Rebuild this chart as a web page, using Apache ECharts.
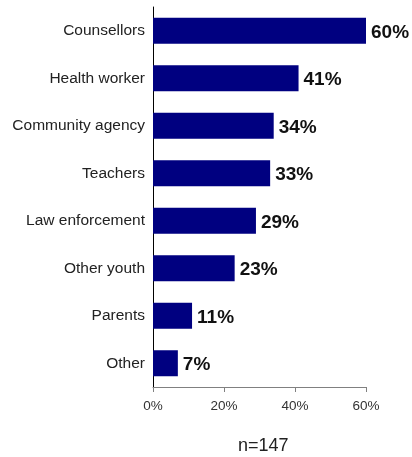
<!DOCTYPE html>
<html>
<head>
<meta charset="utf-8">
<script src="https://cdn.jsdelivr.net/npm/echarts@6/dist/echarts.min.js"></script>
<style>
  html, body { margin: 0; padding: 0; background: #fff; }
  #chart { width: 412px; height: 457px; }
</style>
</head>
<body>
<div id="chart"></div>
<script>
// categories listed bottom to top (category axis starts at the bottom)
const categories = ['Other', 'Parents', 'Other youth', 'Law enforcement', 'Teachers', 'Community agency', 'Health worker', 'Counsellors'];
const values = [7, 11, 23, 29, 33, 34, 41, 60];
const xTicks = [0, 20, 40, 60];
const note = 'n=147';

const chart = echarts.init(document.getElementById('chart'));

const option = {
    animation: false,
    grid: { left: 153, right: 46, top: 7, bottom: 70, containLabel: false },
    xAxis: {
        type: 'value',
        min: xTicks[0],
        max: xTicks[xTicks.length - 1],
        interval: 20,
        splitLine: { show: false },
        axisLine: { show: true, lineStyle: { color: '#808080', width: 1 } },
        axisTick: { show: true, length: 5, lineStyle: { color: '#808080' } },
        axisLabel: {
            formatter: '{value}%',
            color: '#333',
            fontFamily: 'Liberation Sans',
            fontSize: 13.5,
            margin: 12
        }
    },
    yAxis: {
        type: 'category',
        data: categories,
        axisLine: { show: true, lineStyle: { color: '#000', width: 1 } },
        axisTick: { show: false },
        axisLabel: {
            color: '#222',
            fontFamily: 'Liberation Sans',
            fontSize: 15.5,
            margin: 8
        }
    },
    series: [
        {
            type: 'bar',
            data: values,
            barWidth: 26,
            itemStyle: { color: '#000080' },
            label: {
                show: true,
                position: 'right',
                distance: 5,
                formatter: '{c}%',
                color: '#111',
                fontFamily: 'Liberation Sans',
                fontWeight: 'bold',
                fontSize: 19,
                offset: [0, 2]
            }
        }
    ],
    graphic: [
        {
            type: 'text',
            left: 238,
            top: 437,
            style: {
                text: note,
                fill: '#222',
                fontFamily: 'Liberation Sans',
                fontSize: 18
            }
        }
    ]
};

chart.setOption(option);
</script>
</body>
</html>
